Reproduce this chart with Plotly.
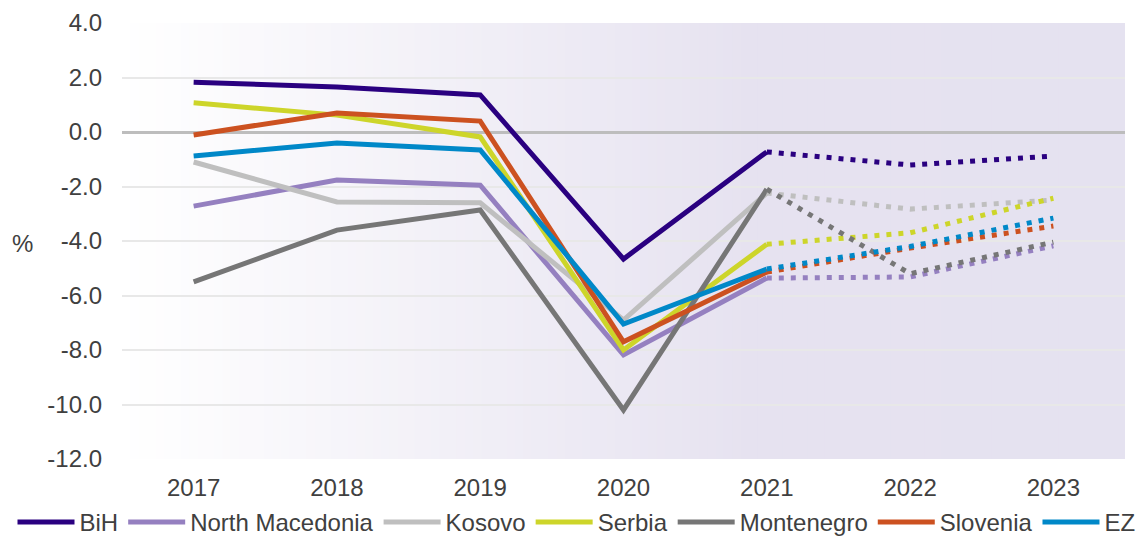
import plotly.graph_objects as go

years = ["2017", "2018", "2019", "2020", "2021", "2022", "2023"]
n_actual = 5  # 2017-2021 actual (solid), 2021-2023 forecast (dotted)

countries = ["BiH", "North Macedonia", "Kosovo", "Serbia", "Montenegro", "Slovenia", "EZ"]
bih = [1.83, 1.65, 1.36, -4.66, -0.73, -1.21, -0.88]
north_macedonia = [-2.72, -1.76, -1.95, -8.18, -5.36, -5.32, -4.18]
kosovo = [-1.10, -2.57, -2.60, -6.90, -2.24, -2.83, -2.50]
serbia = [1.07, 0.62, -0.18, -8.00, -4.12, -3.70, -2.43]
montenegro = [-5.50, -3.60, -2.86, -10.20, -2.10, -5.20, -4.04]
slovenia = [-0.11, 0.70, 0.40, -7.70, -5.14, -4.26, -3.45]
ez = [-0.88, -0.40, -0.66, -7.05, -5.03, -4.20, -3.16]
series = [bih, north_macedonia, kosovo, serbia, montenegro, slovenia, ez]
colors = ["#2a0080", "#9580c0", "#bfbfbf", "#cdd52a", "#767676", "#cc5120", "#0088c8"]

y_ticks = [4, 2, 0, -2, -4, -6, -8, -10, -12]

FONT = "Liberation Sans, Arial, sans-serif"
TEXT = "#404040"
FS = 24
# page body has an 8px margin; figure is offset accordingly
W, H = 1137, 537
PL, PR, PT, PB = 114, 1117, 15, 86  # plot area (px, figure coords)

fig = go.Figure()
for name, vals, col in zip(countries, series, colors):
    fig.add_trace(go.Scatter(
        x=years[:n_actual], y=vals[:n_actual], mode="lines", name=name,
        legendgroup=name, line=dict(color=col, width=5),
    ))
for name, vals, col in zip(countries, series, colors):
    fig.add_trace(go.Scatter(
        x=years[n_actual - 1:], y=vals[n_actual - 1:], mode="lines", name=name,
        legendgroup=name, showlegend=False,
        line=dict(color=col, width=5, dash="5px,7px"),
    ))

# horizontal gradient background (white -> lavender)
stops = [(0.0, (255, 255, 255)), (0.5, (235, 232, 243)), (0.63, (230, 226, 240)), (1.0, (229, 226, 240))]

def col_at(t):
    for (t0, c0), (t1, c1) in zip(stops[:-1], stops[1:]):
        if t0 <= t <= t1:
            f = (t - t0) / (t1 - t0)
            return "rgb(%d,%d,%d)" % tuple(round(a + (b - a) * f) for a, b in zip(c0, c1))
    return "rgb(%d,%d,%d)" % stops[-1][1]

N = 120
shapes = []
for i in range(N):
    x0 = i / N
    x1 = (i + 1) / N + 0.002
    shapes.append(dict(type="rect", xref="x domain", yref="y domain", x0=x0, x1=min(x1, 1),
                       y0=0, y1=1, fillcolor=col_at((i + 0.5) / N), line=dict(width=0),
                       layer="below"))

fig.update_layout(
    width=W, height=H,
    margin=dict(l=0, r=0, t=PT, b=PB),
    paper_bgcolor="white", plot_bgcolor="white",
    font=dict(family=FONT, size=FS, color=TEXT),
    shapes=shapes,
    showlegend=True,
    legend=dict(orientation="h", xref="container", yref="container", x=0.5, xanchor="center",
                y=0.0, yanchor="bottom", font=dict(size=FS, color=TEXT),
                itemwidth=57, traceorder="normal", bgcolor="rgba(0,0,0,0)"),
    annotations=[dict(text="%", xref="paper", yref="paper", x=14 / W, y=0.495,
                      xanchor="center", yanchor="middle", showarrow=False,
                      font=dict(size=FS, color=TEXT))],
)
fig.update_xaxes(type="category", categoryorder="array", categoryarray=years,
                 domain=[PL / W, PR / W], automargin=False,
                 range=[-0.5, 6.5], showgrid=False, showline=False, ticks="",
                 ticklabelstandoff=12,
                 tickfont=dict(size=FS, color=TEXT), zeroline=False)
fig.update_yaxes(range=[-12, 4], tickvals=y_ticks, ticktext=["%.1f" % v for v in y_ticks],
                 automargin=False,
                 showgrid=True, gridcolor="#e8e8e8", gridwidth=1.5,
                 zeroline=True, zerolinecolor="#bdbdbd", zerolinewidth=2.5,
                 showline=False, ticks="", ticklabelstandoff=19,
                 tickfont=dict(size=FS, color=TEXT))

fig.write_html("out.html")
